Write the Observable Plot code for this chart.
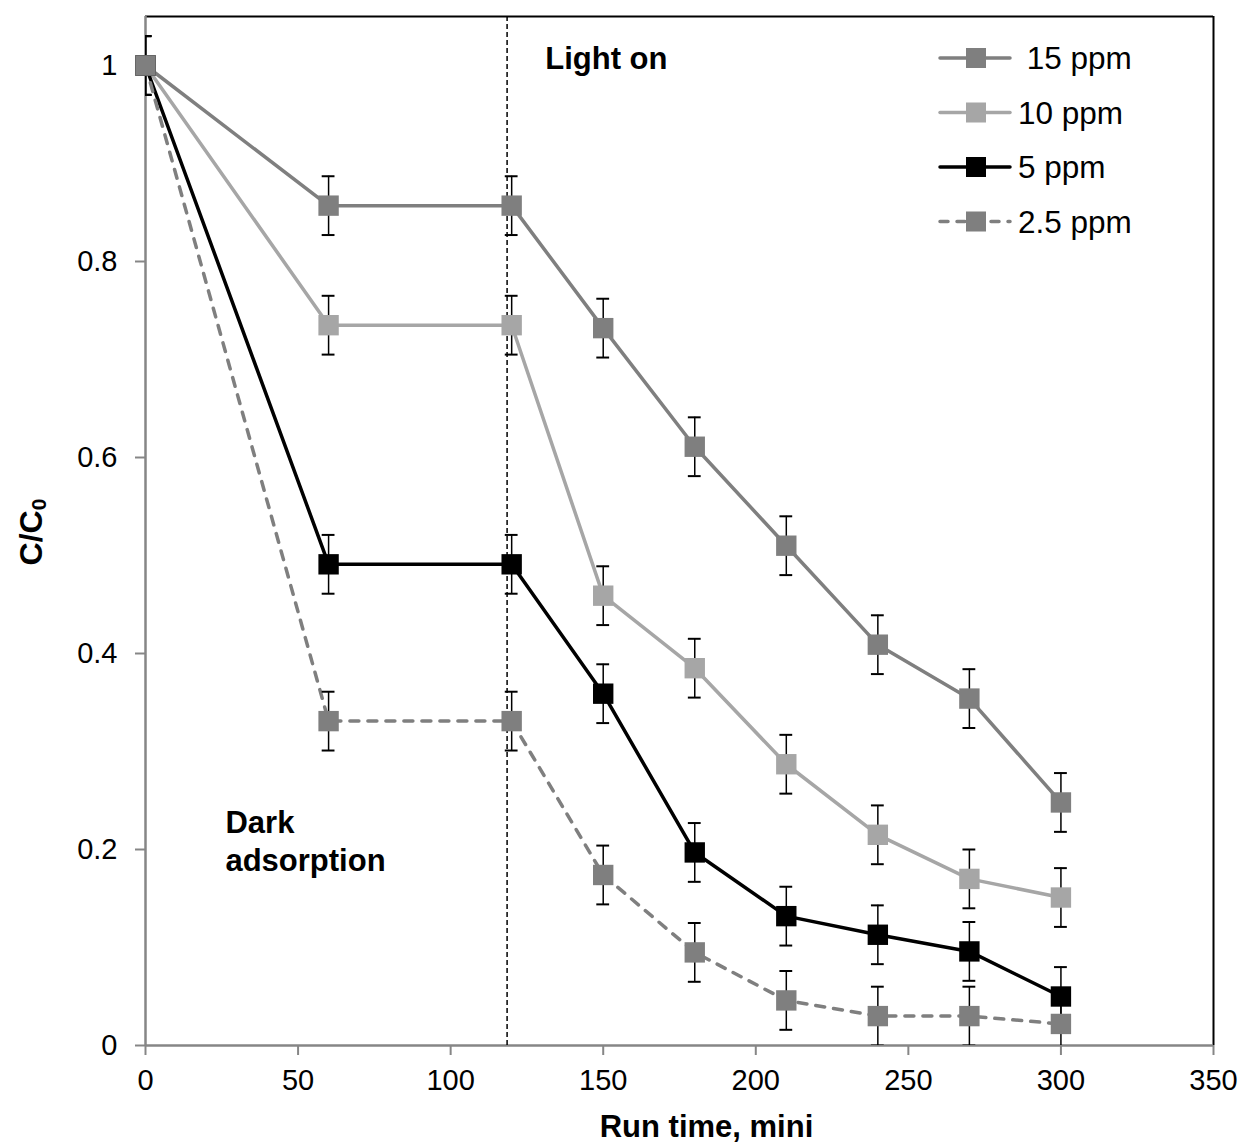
<!DOCTYPE html>
<html>
<head>
<meta charset="utf-8">
<script src="https://cdn.jsdelivr.net/npm/d3@7"></script>
<script src="https://cdn.jsdelivr.net/npm/@observablehq/plot@0.6"></script>
<style>
  html, body { margin: 0; padding: 0; background: white; }
  svg text { white-space: pre; }
</style>
</head>
<body>
<div id="chart"></div>
<script>
// ---- data ----
const times = [0, 60, 120, 150, 180, 210, 240, 270, 300];
const seriesNames = ["15 ppm", "10 ppm", "5 ppm", "2.5 ppm"];
const legendLabels = [" 15 ppm", "10 ppm", "5 ppm", "2.5 ppm"];
const values15 = [1, 0.857, 0.857, 0.732, 0.611, 0.510, 0.409, 0.354, 0.248];
const values10 = [1, 0.735, 0.735, 0.459, 0.385, 0.287, 0.215, 0.170, 0.151];
const values5  = [1, 0.491, 0.491, 0.359, 0.197, 0.132, 0.113, 0.096, 0.050];
const values25 = [1, 0.331, 0.331, 0.174, 0.095, 0.046, 0.030, 0.030, 0.022];
const errorHalf = 0.03;
const xTicks = [0, 50, 100, 150, 200, 250, 300, 350];
const yTicks = [0, 0.2, 0.4, 0.6, 0.8, 1];
const lightOnTime = 118.5;
const annotations = [
  {label: "Light on", x: 131, y: 1.009},
  {label: "Dark\nadsorption", x: 26.2, y: 0.21}
];

// ---- styles ----
const seriesColors = ["#7f7f7f", "#a6a6a6", "#000000", "#7f7f7f"];
const seriesDash = [null, null, null, "9,9"];
const capHalf = 2.1; // in x units

const valuesBySeries = [values15, values10, values5, values25];
const rows = [];
seriesNames.forEach((s, i) => {
  times.forEach((t, j) => rows.push({series: s, time: t, value: valuesBySeries[i][j]}));
});

const font = "'Liberation Sans', Arial, Helvetica, sans-serif";

const plot = Plot.plot({
  width: 1245,
  height: 1146,
  marginLeft: 145,
  marginRight: 32,
  marginTop: 16,
  marginBottom: 101,
  style: {fontFamily: font, fontSize: "28px", color: "black", background: "white", overflow: "visible"},
  x: {domain: [0, 350]},
  y: {domain: [0, 1.05]},
  color: {domain: seriesNames, range: seriesColors},
  marks: [
    Plot.axisX({ticks: xTicks, tickSize: 10, tickPadding: 14, stroke: "#868686", strokeWidth: 2, fill: "black", fontSize: 29, label: null}),
    Plot.axisY({ticks: yTicks, tickSize: 10, tickPadding: 18, stroke: "#868686", strokeWidth: 2, fill: "black", fontSize: 29, label: null, tickFormat: d => String(d)}),
    Plot.ruleY([1.05], {stroke: "black", strokeWidth: 2}),
    Plot.ruleX([350], {stroke: "black", strokeWidth: 2}),
    Plot.ruleY([0], {stroke: "#868686", strokeWidth: 2.5}),
    Plot.ruleX([0], {stroke: "#868686", strokeWidth: 2.5}),
    Plot.ruleX([lightOnTime], {stroke: "black", strokeWidth: 1.5, strokeDasharray: "5,3"}),
    ...seriesNames.map((s, i) => Plot.line(rows.filter(d => d.series === s), {
      x: "time", y: "value", stroke: seriesColors[i], strokeWidth: 3.5,
      strokeDasharray: seriesDash[i], strokeLinecap: "round"
    })),
    Plot.ruleX(rows, {x: "time", y1: d => d.value - errorHalf, y2: d => d.value + errorHalf, stroke: "black", strokeWidth: 1.5, clip: true}),
    Plot.ruleY(rows, {y: d => d.value + errorHalf, x1: d => d.time - capHalf, x2: d => d.time + capHalf, stroke: "black", strokeWidth: 2, clip: true}),
    Plot.ruleY(rows, {y: d => d.value - errorHalf, x1: d => d.time - capHalf, x2: d => d.time + capHalf, stroke: "black", strokeWidth: 2, clip: true}),
    Plot.dot(rows, {x: "time", y: "value", symbol: "square", r: 11.5, fill: "series", stroke: null}),
    Plot.text(annotations, {x: "x", y: "y", text: "label", textAnchor: "start", fontWeight: "bold", fontSize: 31, lineHeight: 1.23, fill: "black"}),
    Plot.text(["Run time, mini"], {frameAnchor: "bottom", dy: 91, dx: 27, fontWeight: "bold", fontSize: 31, fill: "black"})
  ]
});

document.getElementById("chart").appendChild(plot);

// ---- y-axis label with subscript ----
const svg = d3.select(plot);
const yl = svg.append("text")
  .attr("transform", "translate(31,532) rotate(-90)")
  .attr("text-anchor", "middle")
  .attr("dominant-baseline", "central")
  .attr("font-family", font)
  .attr("font-weight", "bold")
  .attr("font-size", 32)
  .attr("fill", "black");
yl.append("tspan").text("C/C");
yl.append("tspan").attr("font-size", 21).attr("dy", 7).text("0");

// ---- legend ----
const legendTop = 58, legendStep = 54.5, lineX1 = 940, lineX2 = 1010, markerX = 976, textX = 1018, markerSize = 20;
const lg = svg.append("g").attr("text-anchor", "start");
seriesNames.forEach((s, i) => {
  const y = legendTop + i * legendStep;
  lg.append("line").attr("x1", lineX1).attr("x2", lineX2).attr("y1", y).attr("y2", y)
    .attr("stroke", seriesColors[i]).attr("stroke-width", 3.5).attr("stroke-linecap", "round")
    .attr("stroke-dasharray", seriesDash[i] ? "8,9" : null);
  lg.append("rect").attr("x", markerX - markerSize / 2).attr("y", y - markerSize / 2)
    .attr("width", markerSize).attr("height", markerSize).attr("fill", seriesColors[i]);
  lg.append("text").attr("x", textX).attr("y", y).attr("dominant-baseline", "central")
    .attr("text-anchor", "start")
    .attr("font-family", font).attr("font-size", 31.5).attr("fill", "black")
    .text(legendLabels[i]);
});
</script>
</body>
</html>
